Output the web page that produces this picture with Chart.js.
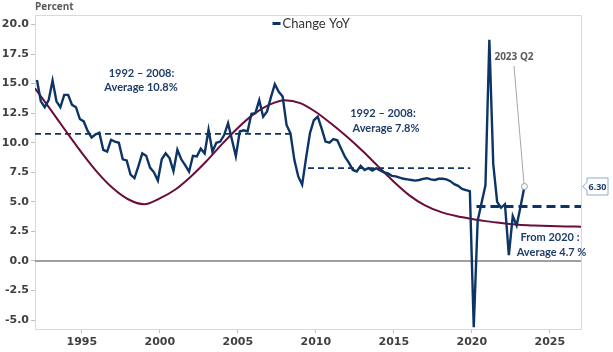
<!DOCTYPE html>
<html>
<head>
<meta charset="utf-8">
<script src="https://cdn.jsdelivr.net/npm/chart.js"></script>
<style>
  html, body { margin: 0; padding: 0; background: #fff; }
</style>
</head>
<body>
<canvas id="chart" width="613" height="352"></canvas>
<script>
// Datos trimestrales: variación interanual (%) desde 1992 T1 hasta 2023 T2
const startYear = 1992;
const yoyValues = [
  15.3, 13.5, 13.0, 13.6,    // 1992
  15.25, 13.5, 13.0, 14.05,  // 1993
  14.05, 13.2, 13.0, 12.0,   // 1994
  11.8, 11.0, 10.45, 10.7,   // 1995
  10.85, 9.4, 9.25, 10.25,   // 1996
  10.1, 10.0, 8.6, 8.5,      // 1997
  7.3, 7.0, 8.0, 9.1,        // 1998
  8.9, 7.9, 7.5, 6.8,        // 1999
  8.6, 9.1, 8.7, 7.6,        // 2000
  9.4, 8.6, 8.1, 7.55,       // 2001
  8.9, 8.85, 9.5, 9.1,       // 2002
  11.1, 9.25, 10.0, 10.1,    // 2003
  10.65, 11.65, 10.25, 8.85, // 2004
  10.95, 11.05, 10.95, 12.45,// 2005
  12.5, 13.6, 12.2, 12.65,   // 2006
  13.85, 14.95, 14.3, 13.9,  // 2007
  11.5, 10.8, 8.55, 7.15,    // 2008
  6.45, 8.7, 10.8, 11.9,     // 2009
  12.2, 11.2, 10.1, 10.0,    // 2010
  10.3, 10.2, 9.5, 8.8,      // 2011
  8.3, 7.7, 7.57, 8.05,      // 2012
  7.7, 7.85, 7.65, 7.85,     // 2013
  7.65, 7.5, 7.4, 7.2,       // 2014
  7.15, 7.05, 6.95, 6.9,     // 2015
  6.85, 6.8, 6.85, 6.95,     // 2016
  7.0, 6.9, 6.85, 6.95,      // 2017
  6.95, 6.9, 6.75, 6.5,      // 2018
  6.35, 6.1, 6.0, 5.9,       // 2019
  -5.6, 3.4, 4.9, 6.4,       // 2020
  18.7, 8.2, 5.0, 4.5,       // 2021
  4.8, 0.5, 3.8, 3.0,        // 2022
  4.6, 6.3                   // 2023
];

// Tendencia suavizada (valor anual)
const trendYears = [1992, 1993, 1994, 1995, 1996, 1997, 1998, 1999, 2000, 2001, 2002, 2003,
  2004, 2005, 2006, 2007, 2008, 2009, 2010, 2011, 2012, 2013, 2014, 2015, 2016, 2017,
  2018, 2019, 2020, 2021, 2022, 2023, 2024, 2025, 2026, 2027];
const trendValues = [14.6, 12.8, 10.95, 9.15, 7.5, 6.15, 5.2, 4.8, 5.3, 6.05, 7.15, 8.45,
  9.9, 11.25, 12.4, 13.2, 13.6, 13.35, 12.6, 11.6, 10.5, 9.3, 8.0, 6.7, 5.55, 4.7,
  4.15, 3.8, 3.55, 3.35, 3.2, 3.07, 3.0, 2.95, 2.92, 2.9];

// Promedios por periodo (líneas discontinuas)
const avgFrom = [1992, 2009.5, 2020.3];
const avgTo = [2008.5, 2019.9, 2027];
const avgLevel = [10.75, 7.85, 4.6];

const xTicks = [1995, 2000, 2005, 2010, 2015, 2020, 2025];
const yTicks = [-5, -2.5, 0, 2.5, 5, 7.5, 10, 12.5, 15, 17.5, 20];

const BLUE = '#0c3466';
const MAROON = '#6b0d3a';
const TEXT_BLUE = '#1f3d6b';
const tickFont = { family: 'DejaVu Sans', size: 11, weight: 'bold' };

const yoyPoints = yoyValues.map((v, i) => ({ x: startYear + (i + 0.5) / 4, y: v }));
const lastIdx = yoyValues.length - 1;

const avgDatasets = avgLevel.map((lvl, i) => ({
  data: [{ x: avgFrom[i], y: lvl }, { x: avgTo[i], y: lvl }],
  borderColor: BLUE,
  borderWidth: i === 2 ? 3 : 1.8,
  borderDash: i === 2 ? [9, 5] : [6, 4],
  pointRadius: 0,
  order: 2
}));

const overlay = {
  id: 'overlay',
  afterDraw(chart) {
    const { ctx, chartArea: a, scales } = chart;
    ctx.save();

    // marco superior y derecho
    ctx.strokeStyle = '#d9d9d9';
    ctx.lineWidth = 1;
    ctx.beginPath();
    ctx.moveTo(a.left, a.top + 0.5);
    ctx.lineTo(a.right + 0.5, a.top + 0.5);
    ctx.lineTo(a.right + 0.5, a.bottom);
    ctx.stroke();

    // titulo eje
    ctx.fillStyle = '#595959';
    ctx.font = 'bold 10px "Open Sans"';
    ctx.textAlign = 'left';
    ctx.textBaseline = 'middle';
    ctx.fillText('Percent', 35, 7.5);

    // leyenda
    ctx.strokeStyle = BLUE;
    ctx.lineWidth = 3;
    ctx.beginPath();
    ctx.moveTo(272.5, 23.5);
    ctx.lineTo(280.5, 23.5);
    ctx.stroke();
    ctx.fillStyle = '#333333';
    ctx.font = '13px Lato';
    ctx.fillText('Change YoY', 282.5, 23.5);

    // anotaciones de promedio
    ctx.fillStyle = TEXT_BLUE;
    ctx.font = 'bold 11px Lato';
    ctx.textAlign = 'center';
    ctx.fillText('1992 \u2013 2008:', 141.5, 73);
    ctx.fillText('Average 10.8%', 141, 87.5);
    ctx.fillText('1992 \u2013 2008:', 383, 113.5);
    ctx.fillText('Average 7.8%', 386, 128);
    ctx.fillText('From 2020 :', 550, 237.5);
    ctx.fillText('Average 4.7 %', 551.5, 252);

    // etiqueta del último punto
    const px = scales.x.getPixelForValue(yoyPoints[lastIdx].x);
    const py = scales.y.getPixelForValue(yoyPoints[lastIdx].y);
    ctx.fillStyle = '#595959';
    ctx.font = 'bold 10px "Open Sans"';
    ctx.fillText('2023 Q2', 514, 57);
    ctx.strokeStyle = '#a6a6a6';
    ctx.lineWidth = 1;
    ctx.beginPath();
    ctx.moveTo(514, 66);
    ctx.lineTo(px - 0.5, py - 3.5);
    ctx.stroke();

    // caja de valor
    const bx = 587, bw = 21, bh = 17;
    ctx.beginPath();
    ctx.moveTo(582.5, py);
    ctx.lineTo(bx, py - 4);
    ctx.lineTo(bx, py - bh / 2);
    ctx.lineTo(bx + bw, py - bh / 2);
    ctx.lineTo(bx + bw, py + bh / 2);
    ctx.lineTo(bx, py + bh / 2);
    ctx.lineTo(bx, py + 4);
    ctx.closePath();
    ctx.fillStyle = '#ffffff';
    ctx.fill();
    ctx.strokeStyle = '#8faacc';
    ctx.stroke();
    ctx.fillStyle = TEXT_BLUE;
    ctx.font = 'bold 9px "Open Sans"';
    ctx.fillText(yoyValues[lastIdx].toFixed(2), bx + bw / 2, py + 0.5);

    ctx.restore();
  }
};

new Chart(document.getElementById('chart'), {
  type: 'line',
  data: {
    datasets: [
      {
        label: 'Change YoY',
        data: yoyPoints,
        borderColor: BLUE,
        borderWidth: 2.4,
        tension: 0,
        pointRadius: yoyPoints.map((p, i) => (i === lastIdx ? 3 : 0)),
        pointBackgroundColor: '#ffffff',
        pointBorderColor: '#999999',
        pointBorderWidth: 1,
        order: 0
      },
      {
        label: 'Trend',
        data: trendYears.map((yr, i) => ({ x: yr, y: trendValues[i] })),
        borderColor: MAROON,
        borderWidth: 2,
        cubicInterpolationMode: 'monotone',
        pointRadius: 0,
        order: 1
      },
      ...avgDatasets,
      {
        label: 'Zero',
        data: [{ x: 1992, y: 0 }, { x: 2027, y: 0 }],
        borderColor: '#808080',
        borderWidth: 1.5,
        pointRadius: 0,
        order: 3
      }
    ]
  },
  options: {
    responsive: false,
    animation: false,
    layout: { padding: { top: 15, right: 32, left: 0, bottom: 0 } },
    plugins: { legend: { display: false }, tooltip: { enabled: false } },
    scales: {
      x: {
        type: 'linear',
        min: 1992,
        max: 2027,
        afterBuildTicks: s => { s.ticks = xTicks.map(v => ({ value: v })); },
        afterFit: s => { s.height = 23; },
        ticks: { callback: v => String(v), font: tickFont, color: '#404040', maxRotation: 0, padding: 3 },
        grid: { drawOnChartArea: false, tickLength: 4, color: '#bfbfbf' },
        border: { color: '#d9d9d9' }
      },
      y: {
        min: -5.75,
        max: 20.8,
        afterBuildTicks: s => { s.ticks = yTicks.map(v => ({ value: v })); },
        afterFit: s => { s.width = 35; },
        ticks: { callback: v => v.toFixed(1), font: tickFont, color: '#404040', padding: 2 },
        grid: { drawOnChartArea: false, tickLength: 4, color: '#bfbfbf' },
        border: { color: '#d9d9d9' }
      }
    }
  },
  plugins: [overlay]
});
</script>
</body>
</html>
